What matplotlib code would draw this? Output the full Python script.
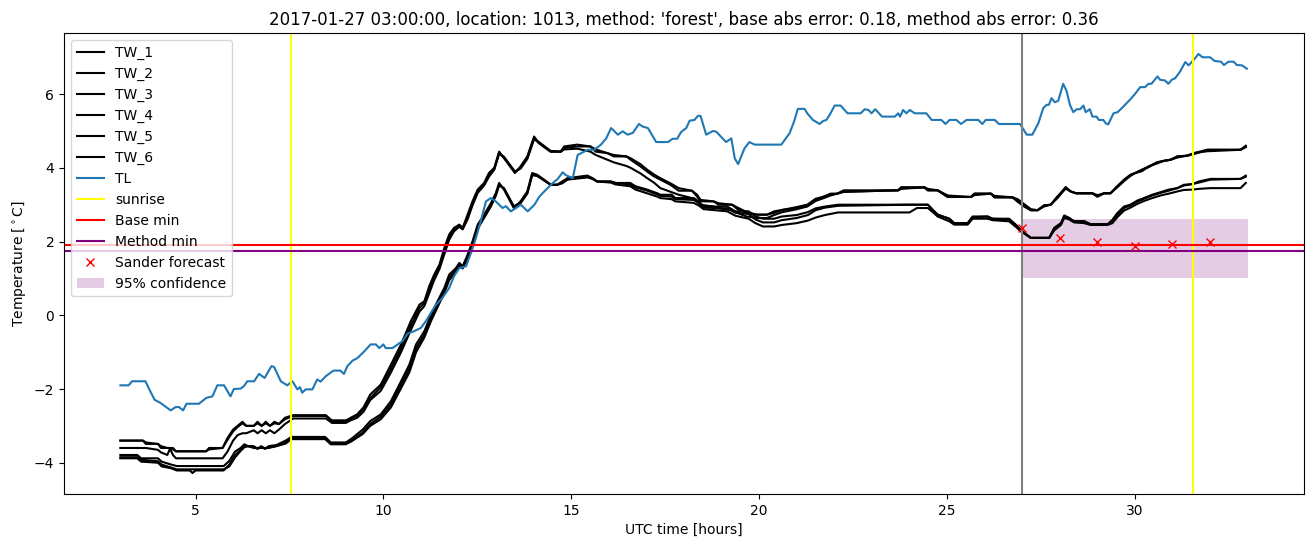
import matplotlib
matplotlib.use("Agg")
import matplotlib.pyplot as plt

# ---------------- data ----------------
tl_t = [3.0, 3.22, 3.31, 3.67, 3.76, 3.91, 4.07, 4.34, 4.47, 4.56, 4.67, 4.76, 5.09, 5.29, 5.45, 5.58, 5.76, 5.93,
        6.02, 6.20, 6.29, 6.38, 6.56, 6.69, 6.84, 7.02, 7.09, 7.27, 7.44, 7.58, 7.71, 7.78, 7.84, 7.93, 8.11, 8.24,
        8.33, 8.47, 8.55, 8.67, 8.85, 8.95, 9.04, 9.18, 9.31, 9.49, 9.66, 9.80, 9.89, 10.00, 10.06, 10.24, 10.38,
        10.51, 10.64, 10.82, 11.00, 11.13, 11.26, 11.40, 11.57, 11.75, 11.88, 12.02, 12.20, 12.33, 12.46, 12.59,
        12.73, 12.86, 12.99, 13.17, 13.26, 13.39, 13.53, 13.66, 13.84, 14.02, 14.15, 14.33, 14.51, 14.64, 14.77,
        14.86, 15.04, 15.17, 15.44, 15.61, 15.79, 15.93, 16.06, 16.24, 16.37, 16.50, 16.64, 16.80, 16.90, 17.04,
        17.26, 17.57, 17.70, 17.82, 17.92, 18.06, 18.15, 18.28, 18.37, 18.44, 18.59, 18.77, 18.86, 19.12, 19.26,
        19.35, 19.44, 19.61, 19.74, 19.88, 20.59, 20.81, 20.93, 21.03, 21.21, 21.28, 21.43, 21.61, 21.70, 21.79,
        21.90, 22.01, 22.17, 22.35, 22.70, 22.81, 22.91, 22.99, 23.09, 23.27, 23.61, 23.70, 23.75, 23.83, 23.92,
        24.01, 24.14, 24.45, 24.59, 24.85, 24.96, 25.07, 25.25, 25.37, 25.52, 25.83, 25.94, 26.03, 26.27, 26.38,
        26.94, 27.00, 27.12, 27.27, 27.43, 27.56, 27.65, 27.71, 27.78, 27.87, 27.96, 28.09, 28.18, 28.27, 28.36,
        28.45, 28.54, 28.63, 28.69, 28.80, 28.87, 28.98, 29.04, 29.16, 29.22, 29.29, 29.43, 29.54, 29.69, 29.87,
        30.00, 30.14, 30.27, 30.36, 30.44, 30.60, 30.67, 30.80, 30.89, 30.98, 31.07, 31.20, 31.34, 31.43, 31.59,
        31.69, 31.80, 32.00, 32.12, 32.29, 32.37, 32.49, 32.63, 32.71, 32.85, 32.98]
tl_v = [-1.90, -1.90, -1.79, -1.79, -1.99, -2.29, -2.38, -2.58, -2.49, -2.49, -2.58, -2.40, -2.40, -2.24, -2.20, -1.90,
        -1.90, -2.20, -2.00, -1.99, -1.92, -1.79, -1.79, -1.59, -1.70, -1.38, -1.40, -1.79, -1.90, -1.79, -2.01,
        -1.95, -2.10, -2.01, -2.01, -1.74, -1.80, -1.65, -1.59, -1.50, -1.50, -1.59, -1.38, -1.23, -1.16, -0.98,
        -0.79, -0.79, -0.89, -0.79, -0.89, -0.89, -0.79, -0.70, -0.50, -0.43, -0.34, -0.16, 0.06, 0.29, 0.47, 0.74,
        1.06, 1.28, 1.33, 1.69, 2.09, 2.55, 3.09, 3.18, 3.09, 2.91, 2.96, 2.82, 2.91, 3.00, 2.82, 3.00, 3.22, 3.41,
        3.59, 3.70, 3.88, 3.80, 3.72, 4.35, 4.49, 4.49, 4.63, 4.80, 5.08, 4.90, 4.99, 4.90, 4.95, 5.19, 5.12, 5.08,
        4.70, 4.70, 4.79, 4.79, 4.97, 5.08, 5.28, 5.30, 5.41, 5.41, 4.90, 5.00, 4.98, 4.70, 4.80, 4.26, 4.10, 4.53,
        4.70, 4.63, 4.63, 4.94, 5.26, 5.60, 5.60, 5.48, 5.30, 5.19, 5.27, 5.30, 5.48, 5.69, 5.69, 5.48, 5.48, 5.59,
        5.57, 5.48, 5.59, 5.39, 5.39, 5.48, 5.39, 5.57, 5.48, 5.57, 5.48, 5.48, 5.30, 5.30, 5.19, 5.30, 5.30, 5.19,
        5.30, 5.30, 5.19, 5.30, 5.30, 5.19, 5.19, 5.10, 4.90, 4.90, 5.21, 5.62, 5.71, 5.71, 5.89, 5.78, 5.82, 6.28,
        6.09, 5.71, 5.51, 5.59, 5.59, 5.69, 5.51, 5.59, 5.39, 5.39, 5.30, 5.30, 5.21, 5.18, 5.48, 5.51, 5.66, 5.85,
        6.00, 6.19, 6.19, 6.28, 6.28, 6.48, 6.39, 6.37, 6.28, 6.39, 6.43, 6.61, 6.87, 6.78, 6.96, 7.09, 7.00, 7.00,
        6.90, 6.88, 6.79, 6.88, 6.88, 6.79, 6.78, 6.69]

# upper group of water-temperature sensors (shared time grid)
tw_up_t = [3.0, 3.6, 3.68, 4.0, 4.08, 4.25, 4.32, 4.4, 4.48, 5.28,
           5.36, 5.72, 5.85, 6.0, 6.12, 6.25, 6.35, 6.55, 6.65, 6.76,
           6.87, 6.98, 7.1, 7.22, 7.38, 7.6, 8.47, 8.63, 9.0, 9.13,
           9.3, 9.47, 9.65, 9.93, 10.2, 10.47, 10.73, 10.96, 11.09, 11.22,
           11.35, 11.49, 11.62, 11.75, 11.88, 12.02, 12.11, 12.24, 12.37, 12.51,
           12.68, 12.81, 12.95, 13.08, 13.21, 13.5, 13.65, 13.83, 14.01, 14.14,
           14.45, 14.72, 14.81, 15.16, 15.51, 15.65, 15.96, 16.13, 16.47, 16.58,
           16.84, 17.02, 17.2, 17.37, 17.64, 17.86, 18.21, 18.35, 18.44, 18.79,
           18.92, 19.28, 19.41, 19.67, 19.94, 20.21, 20.4, 20.62, 20.97, 21.28,
           21.5, 21.72, 21.9, 22.08, 22.25, 23.7, 23.78, 24.4, 24.49, 24.75,
           25.02, 25.64, 25.73, 26.17, 26.26, 26.74, 26.88, 27.05, 27.23, 27.41,
           27.58, 27.76, 27.94, 28.16, 28.29, 28.43, 28.87, 29.0, 29.18, 29.35,
           29.53, 29.71, 29.88, 30.01, 30.19, 30.37, 30.59, 30.77, 30.95, 31.13,
           31.39, 31.57, 31.92, 32.81, 32.95]
tw_1 = [-3.40, -3.40, -3.49, -3.49, -3.60, -3.60, -3.60, -3.60, -3.69, -3.69,
        -3.60, -3.60, -3.33, -3.10, -3.00, -2.89, -3.00, -3.00, -2.89, -3.00,
        -2.89, -3.00, -2.89, -2.95, -2.78, -2.71, -2.71, -2.87, -2.87, -2.78,
        -2.69, -2.50, -2.15, -1.88, -1.34, -0.79, -0.16, 0.29, 0.38, 0.79,
        1.10, 1.37, 1.82, 2.19, 2.37, 2.46, 2.37, 2.73, 3.09, 3.41,
        3.59, 3.86, 4.00, 4.44, 4.26, 3.86, 4.04, 4.31, 4.85, 4.67,
        4.44, 4.44, 4.58, 4.63, 4.58, 4.44, 4.40, 4.31, 4.31, 4.22,
        4.04, 3.90, 3.77, 3.68, 3.54, 3.38, 3.38, 3.22, 3.09, 3.09,
        3.00, 3.00, 2.89, 2.77, 2.73, 2.73, 2.82, 2.86, 2.93, 3.00,
        3.16, 3.22, 3.30, 3.30, 3.39, 3.39, 3.47, 3.47, 3.39, 3.39,
        3.21, 3.21, 3.30, 3.30, 3.20, 3.20, 3.11, 2.98, 2.85, 2.85,
        2.98, 3.00, 3.22, 3.48, 3.36, 3.31, 3.31, 3.22, 3.31, 3.31,
        3.50, 3.68, 3.81, 3.86, 3.95, 4.04, 4.15, 4.19, 4.22, 4.31,
        4.33, 4.40, 4.49, 4.49, 4.60]
tw_2 = [-3.40, -3.40, -3.45, -3.49, -3.55, -3.60, -3.60, -3.64, -3.69, -3.69,
        -3.64, -3.60, -3.38, -3.15, -3.03, -2.93, -3.00, -3.00, -2.93, -3.00,
        -2.93, -3.00, -2.93, -2.95, -2.82, -2.73, -2.73, -2.85, -2.85, -2.80,
        -2.72, -2.55, -2.25, -1.95, -1.45, -0.90, -0.28, 0.20, 0.33, 0.70,
        1.02, 1.30, 1.72, 2.10, 2.33, 2.44, 2.37, 2.66, 3.02, 3.36,
        3.55, 3.80, 3.97, 4.40, 4.28, 3.88, 4.00, 4.27, 4.80, 4.67,
        4.44, 4.44, 4.54, 4.58, 4.58, 4.50, 4.40, 4.35, 4.31, 4.26,
        4.10, 3.95, 3.82, 3.72, 3.58, 3.45, 3.38, 3.27, 3.13, 3.09,
        3.04, 3.00, 2.93, 2.80, 2.73, 2.73, 2.78, 2.86, 2.90, 2.98,
        3.12, 3.22, 3.27, 3.30, 3.35, 3.39, 3.43, 3.47, 3.43, 3.39,
        3.25, 3.21, 3.26, 3.30, 3.24, 3.20, 3.15, 3.02, 2.88, 2.85,
        2.95, 3.00, 3.18, 3.45, 3.36, 3.31, 3.31, 3.26, 3.31, 3.31,
        3.47, 3.64, 3.78, 3.86, 3.91, 4.04, 4.12, 4.19, 4.22, 4.28,
        4.33, 4.37, 4.49, 4.49, 4.58]
tw_3 = [-3.60, -3.60, -3.60, -3.65, -3.72, -3.79, -3.62, -3.79, -3.88, -3.88,
        -3.88, -3.88, -3.70, -3.40, -3.25, -3.20, -3.20, -3.12, -3.20, -3.12,
        -3.20, -3.12, -3.20, -3.10, -2.95, -2.80, -2.80, -2.92, -2.92, -2.85,
        -2.78, -2.62, -2.30, -2.05, -1.55, -1.00, -0.40, 0.10, 0.25, 0.60,
        0.95, 1.25, 1.65, 2.05, 2.28, 2.40, 2.33, 2.60, 2.98, 3.32,
        3.52, 3.76, 3.95, 4.38, 4.30, 3.90, 3.98, 4.24, 4.78, 4.70,
        4.46, 4.44, 4.50, 4.52, 4.44, 4.35, 4.22, 4.15, 4.05, 4.00,
        3.85, 3.72, 3.60, 3.45, 3.35, 3.27, 3.18, 3.09, 3.00, 2.95,
        2.90, 2.85, 2.78, 2.68, 2.64, 2.64, 2.72, 2.80, 2.87, 2.95,
        3.10, 3.18, 3.25, 3.30, 3.35, 3.39, 3.47, 3.47, 3.39, 3.39,
        3.21, 3.21, 3.30, 3.30, 3.20, 3.20, 3.08, 2.95, 2.85, 2.85,
        2.98, 3.00, 3.22, 3.44, 3.36, 3.31, 3.31, 3.22, 3.31, 3.31,
        3.50, 3.66, 3.81, 3.86, 3.95, 4.02, 4.15, 4.19, 4.22, 4.31,
        4.33, 4.40, 4.45, 4.49, 4.56]

# lower group of water-temperature sensors (shared time grid)
tw_lo_t = [3.0, 3.45, 3.55, 4.0, 4.1, 4.35, 4.5, 4.85, 4.92, 5.0,
           5.75, 5.9, 6.05, 6.2, 6.3, 6.4, 6.55, 6.65, 6.75, 6.85,
           6.95, 7.15, 7.4, 7.55, 8.45, 8.6, 9.0, 9.15, 9.45, 9.65,
           9.93, 10.2, 10.47, 10.69, 10.87, 11.09, 11.27, 11.44, 11.62, 11.75,
           11.93, 12.02, 12.11, 12.24, 12.37, 12.51, 12.68, 12.86, 12.99, 13.08,
           13.21, 13.47, 13.65, 13.83, 13.96, 14.09, 14.27, 14.45, 14.62, 14.76,
           14.9, 15.43, 15.56, 15.69, 16.05, 16.18, 16.57, 16.71, 17.02, 17.29,
           17.37, 17.67, 17.77, 18.26, 18.39, 18.52, 19.15, 19.37, 19.72, 19.9,
           20.1, 20.4, 20.6, 21.0, 21.3, 21.5, 21.75, 22.1, 24.0, 24.2,
           24.49, 24.62, 24.75, 25.06, 25.19, 25.55, 25.68, 26.08, 26.21, 26.65,
           26.83, 26.96, 27.23, 27.72, 27.85, 28.03, 28.12, 28.25, 28.38, 28.65,
           28.82, 29.27, 29.4, 29.53, 29.71, 29.88, 30.06, 30.24, 30.46, 30.68,
           30.9, 31.13, 31.3, 31.53, 31.7, 32.01, 32.81, 32.95]
tw_4 = [-3.79, -3.79, -3.88, -3.88, -3.97, -4.05, -4.09, -4.09, -4.09, -4.09,
        -4.09, -3.95, -3.70, -3.60, -3.50, -3.55, -3.55, -3.62, -3.55, -3.62,
        -3.55, -3.52, -3.40, -3.30, -3.30, -3.45, -3.45, -3.35, -3.10, -2.87,
        -2.69, -2.33, -1.79, -1.34, -0.79, -0.43, 0.02, 0.38, 0.74, 1.10,
        1.28, 1.42, 1.33, 1.64, 2.00, 2.46, 2.73, 3.04, 3.31, 3.59,
        3.41, 2.91, 3.09, 3.36, 3.86, 3.81, 3.68, 3.54, 3.54, 3.63,
        3.72, 3.79, 3.72, 3.63, 3.63, 3.59, 3.59, 3.50, 3.41, 3.31,
        3.27, 3.27, 3.18, 3.18, 3.09, 2.95, 2.95, 2.82, 2.82, 2.68,
        2.62, 2.62, 2.68, 2.72, 2.80, 2.90, 2.95, 3.00, 3.00, 3.00,
        3.00, 2.86, 2.73, 2.62, 2.50, 2.50, 2.68, 2.68, 2.62, 2.62,
        2.46, 2.32, 2.10, 2.10, 2.37, 2.50, 2.71, 2.64, 2.55, 2.55,
        2.47, 2.47, 2.59, 2.77, 2.95, 3.00, 3.11, 3.18, 3.27, 3.34,
        3.41, 3.45, 3.54, 3.56, 3.63, 3.70, 3.70, 3.79]
tw_5 = [-3.88, -3.88, -3.97, -4.00, -4.10, -4.15, -4.21, -4.21, -4.28, -4.21,
        -4.21, -4.05, -3.80, -3.65, -3.55, -3.55, -3.58, -3.62, -3.58, -3.62,
        -3.58, -3.55, -3.45, -3.33, -3.33, -3.48, -3.48, -3.40, -3.18, -2.95,
        -2.75, -2.42, -1.88, -1.45, -0.90, -0.52, -0.08, 0.30, 0.66, 1.02,
        1.22, 1.38, 1.30, 1.58, 1.94, 2.40, 2.68, 3.00, 3.27, 3.55,
        3.43, 2.94, 3.06, 3.32, 3.82, 3.81, 3.68, 3.54, 3.54, 3.60,
        3.70, 3.76, 3.72, 3.63, 3.63, 3.59, 3.55, 3.47, 3.38, 3.28,
        3.24, 3.22, 3.15, 3.13, 3.05, 2.92, 2.90, 2.78, 2.75, 2.60,
        2.52, 2.52, 2.58, 2.64, 2.72, 2.85, 2.92, 2.97, 3.00, 3.00,
        3.00, 2.86, 2.73, 2.62, 2.50, 2.50, 2.66, 2.68, 2.62, 2.60,
        2.44, 2.30, 2.10, 2.10, 2.33, 2.47, 2.68, 2.64, 2.55, 2.55,
        2.47, 2.47, 2.55, 2.73, 2.91, 2.98, 3.08, 3.16, 3.25, 3.32,
        3.38, 3.45, 3.52, 3.56, 3.60, 3.68, 3.70, 3.76]
tw_6 = [-3.85, -3.85, -3.92, -3.96, -4.05, -4.13, -4.18, -4.18, -4.18, -4.18,
        -4.18, -4.10, -3.86, -3.68, -3.58, -3.55, -3.60, -3.60, -3.60, -3.60,
        -3.60, -3.55, -3.48, -3.36, -3.36, -3.50, -3.50, -3.42, -3.22, -3.00,
        -2.82, -2.50, -1.98, -1.55, -1.00, -0.60, -0.15, 0.22, 0.60, 0.95,
        1.18, 1.33, 1.27, 1.54, 1.90, 2.35, 2.64, 2.95, 3.24, 3.52,
        3.45, 2.96, 3.04, 3.30, 3.80, 3.78, 3.66, 3.54, 3.54, 3.58,
        3.68, 3.74, 3.70, 3.63, 3.60, 3.55, 3.50, 3.41, 3.31, 3.22,
        3.18, 3.15, 3.09, 3.05, 2.98, 2.88, 2.82, 2.70, 2.62, 2.50,
        2.41, 2.41, 2.45, 2.50, 2.57, 2.65, 2.72, 2.79, 2.79, 2.91,
        2.91, 2.80, 2.68, 2.55, 2.46, 2.46, 2.62, 2.62, 2.58, 2.55,
        2.40, 2.28, 2.10, 2.10, 2.30, 2.45, 2.64, 2.60, 2.52, 2.50,
        2.45, 2.45, 2.50, 2.66, 2.84, 2.92, 3.02, 3.10, 3.18, 3.25,
        3.30, 3.36, 3.40, 3.41, 3.43, 3.45, 3.45, 3.59]

tw_labels = ["TW_1", "TW_2", "TW_3", "TW_4", "TW_5", "TW_6"]

sunrise_hours = [7.55, 31.55]
forecast_start = 27.0
base_min = 1.92
method_min = 1.75
forecast_t = [27, 28, 29, 30, 31, 32]
forecast_v = [2.38, 2.11, 1.98, 1.89, 1.93, 2.00]
conf_t = [27.0, 33.0]
conf_low = [1.0, 1.0]
conf_high = [2.61, 2.61]

title = ("2017-01-27 03:00:00, location: 1013, method: 'forest', "
         "base abs error: 0.18, method abs error: 0.36")

# ---------------- plot ----------------
fig = plt.figure(figsize=(13.13, 5.47), dpi=100)
ax = fig.add_axes([64 / 1313, 1 - 494 / 547, (1304 - 64) / 1313, (494 - 33) / 547])

tw_series = [(tw_up_t, tw_1), (tw_up_t, tw_2), (tw_up_t, tw_3),
             (tw_lo_t, tw_4), (tw_lo_t, tw_5), (tw_lo_t, tw_6)]
for (t, v), lab in zip(tw_series, tw_labels):
    ax.plot(t, v, color="black", lw=1.5, label=lab)
ax.plot(tl_t, tl_v, color="#1f77b4", lw=1.5, label="TL")

for i, s in enumerate(sunrise_hours):
    ax.axvline(s, color="yellow", lw=1.5, label="sunrise" if i == 0 else None)
ax.axvline(forecast_start, color="grey", lw=1.5)
ax.axhline(base_min, color="red", lw=1.5, label="Base min")
ax.axhline(method_min, color="purple", lw=1.5, label="Method min")
ax.plot(forecast_t, forecast_v, "x", color="red", label="Sander forecast")
ax.fill_between(conf_t, conf_low, conf_high, color="purple", alpha=0.2,
                linewidth=0, label="95% confidence")

ax.set_title(title, fontsize=12)
ax.set_xlabel("UTC time [hours]")
ax.set_ylabel(r"Temperature [$^\circ$C]")
ax.legend(loc="upper left")

fig.savefig("out.png", dpi=100)
